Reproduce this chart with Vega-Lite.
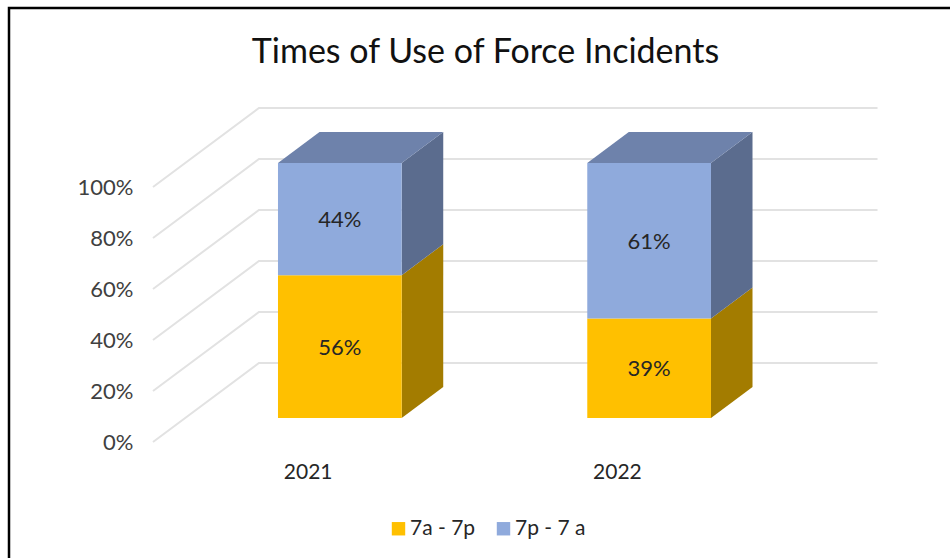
{
  "$schema": "https://vega.github.io/schema/vega-lite/v6.json",
  "autosize": {"type": "none"},
  "padding": {"left": 9, "top": 8, "right": 0, "bottom": 0},
  "width": 945,
  "height": 555,
  "background": "white",
  "view": {"stroke": "black", "strokeWidth": 2.5, "fill": "white"},
  "config": {"font": "Lato"},
  "title": {
    "text": "Times of Use of Force Incidents",
    "frame": "group",
    "anchor": "middle",
    "offset": -62,
    "dx": 4,
    "font": "Lato",
    "fontSize": 34,
    "fontWeight": "normal",
    "color": "#111111"
  },
  "datasets": {
    "shares": [
      {"year": 2021, "series": "7a - 7p", "share": 56},
      {"year": 2021, "series": "7p - 7 a", "share": 44},
      {"year": 2022, "series": "7a - 7p", "share": 39},
      {"year": 2022, "series": "7p - 7 a", "share": 61}
    ],
    "ticks": [{"tick": 0}, {"tick": 20}, {"tick": 40}, {"tick": 60}, {"tick": 80}, {"tick": 100}]
  },
  "layer": [
    {
      "description": "Gridlines running along the side wall and then across the back wall",
      "data": {"name": "ticks"},
      "transform": [
        {"calculate": "[0, 0.3425, 2.3425]", "as": "px"},
        {"calculate": "[datum.tick, datum.tick + 31, datum.tick + 31]", "as": "py"},
        {"flatten": ["px", "py"]}
      ],
      "mark": {"type": "line", "color": "#e2e2e2", "strokeWidth": 2, "clip": false},
      "encoding": {
        "x": {
          "field": "px",
          "type": "quantitative",
          "title": null,
          "scale": {"domain": [0, 2.3425], "range": [144, 868.5], "nice": false, "zero": false},
          "axis": {
            "orient": "bottom",
            "offset": -102,
            "values": [0.5, 1.5],
            "labelExpr": "datum.value < 1 ? '2021' : '2022'",
            "domain": false,
            "ticks": false,
            "grid": false,
            "labelPadding": 0,
            "labelFont": "Lato",
            "labelFontSize": 21,
            "labelColor": "#262626"
          }
        },
        "y": {
          "field": "py",
          "type": "quantitative",
          "title": null,
          "scale": {"domain": [0, 131], "range": [434, 100], "nice": false, "zero": false},
          "axis": {
            "orient": "left",
            "offset": -124,
            "values": [0, 20, 40, 60, 80, 100],
            "labelExpr": "datum.value + '%'",
            "domain": false,
            "ticks": false,
            "grid": false,
            "labelPadding": 0,
            "labelFont": "Lato",
            "labelFontSize": 22,
            "labelColor": "#404040"
          }
        },
        "detail": {"field": "tick"}
      }
    },
    {
      "description": "Right-hand faces of the stacked columns",
      "data": {"name": "shares"},
      "transform": [
        {"stack": "share", "groupby": ["year"], "sort": [{"field": "series", "order": "ascending"}], "as": ["low", "high"]},
        {"calculate": "datum.year - 2021 + 0.7", "as": "right"},
        {"calculate": "[datum.right + 0.1041, datum.right + 0.2384]", "as": "px"},
        {"calculate": "[datum.low + 9.42, datum.low + 21.58]", "as": "pl"},
        {"calculate": "[datum.high + 9.42, datum.high + 21.58]", "as": "ph"},
        {"flatten": ["px", "pl", "ph"]}
      ],
      "mark": {"type": "area", "clip": false},
      "encoding": {
        "x": {"field": "px", "type": "quantitative", "title": null},
        "y": {"field": "pl", "type": "quantitative", "title": null, "stack": null},
        "y2": {"field": "ph"},
        "fill": {
          "condition": {"test": "datum.series === '7a - 7p'", "value": "#A37C00"},
          "value": "#5B6C8E"
        },
        "detail": {"field": "year"},
        "order": {"field": "series"}
      }
    },
    {
      "description": "Top faces of the columns",
      "data": {"name": "shares"},
      "transform": [
        {"stack": "share", "groupby": ["year"], "sort": [{"field": "series", "order": "ascending"}], "as": ["low", "high"]},
        {"filter": "datum.series === '7p - 7 a'"},
        {"calculate": "datum.year - 2021 + 0.3 + 0.1041", "as": "fl"},
        {"calculate": "datum.year - 2021 + 0.7 + 0.1041", "as": "fr"},
        {"calculate": "datum.high + 9.42", "as": "near"},
        {"calculate": "datum.high + 21.58", "as": "far"},
        {"calculate": "[datum.fl, datum.fl + 0.1343, datum.fr, datum.fr + 0.1343]", "as": "px"},
        {"calculate": "[datum.near, datum.near, datum.near, datum.far]", "as": "pl"},
        {"calculate": "[datum.near, datum.far, datum.far, datum.far]", "as": "ph"},
        {"flatten": ["px", "pl", "ph"]}
      ],
      "mark": {"type": "area", "color": "#6E82AB", "clip": false},
      "encoding": {
        "x": {"field": "px", "type": "quantitative", "title": null},
        "y": {"field": "pl", "type": "quantitative", "title": null, "stack": null},
        "y2": {"field": "ph"},
        "detail": {"field": "year"}
      }
    },
    {
      "description": "Front faces of the columns, with the legend",
      "data": {"name": "shares"},
      "transform": [
        {"stack": "share", "groupby": ["year"], "sort": [{"field": "series", "order": "ascending"}], "as": ["low", "high"]},
        {"calculate": "datum.year - 2021 + 0.3 + 0.1041", "as": "fl"},
        {"calculate": "datum.year - 2021 + 0.7 + 0.1041", "as": "fr"},
        {"calculate": "datum.low + 9.42", "as": "pl"},
        {"calculate": "datum.high + 9.42", "as": "ph"}
      ],
      "mark": {"type": "rect", "clip": false},
      "encoding": {
        "x": {"field": "fl", "type": "quantitative", "title": null},
        "x2": {"field": "fr"},
        "y": {"field": "pl", "type": "quantitative", "title": null},
        "y2": {"field": "ph"},
        "color": {
          "field": "series",
          "type": "nominal",
          "scale": {"domain": ["7a - 7p", "7p - 7 a"], "range": ["#FFC000", "#8FAADC"]},
          "legend": {
            "title": null,
            "orient": "none",
            "direction": "horizontal",
            "legendX": 379,
            "legendY": 510,
            "symbolType": "square",
            "symbolSize": 180,
            "symbolStrokeWidth": 0,
            "labelFont": "Lato",
            "labelFontSize": 21,
            "labelColor": "#262626",
            "columnPadding": 17,
            "labelOffset": 1
          }
        }
      }
    },
    {
      "description": "Share labels centred on each front face",
      "data": {"name": "shares"},
      "transform": [
        {"stack": "share", "groupby": ["year"], "sort": [{"field": "series", "order": "ascending"}], "as": ["low", "high"]},
        {"calculate": "datum.year - 2021 + 0.5 + 0.1041", "as": "cx"},
        {"calculate": "(datum.low + datum.high) / 2 + 9.42", "as": "cy"},
        {"calculate": "datum.share + '%'", "as": "label"}
      ],
      "mark": {"type": "text", "font": "Lato", "fontSize": 22, "color": "#262626", "clip": false, "baseline": "middle", "dy": 1},
      "encoding": {
        "x": {"field": "cx", "type": "quantitative", "title": null},
        "y": {"field": "cy", "type": "quantitative", "title": null},
        "text": {"field": "label", "type": "nominal"}
      }
    }
  ]
}
